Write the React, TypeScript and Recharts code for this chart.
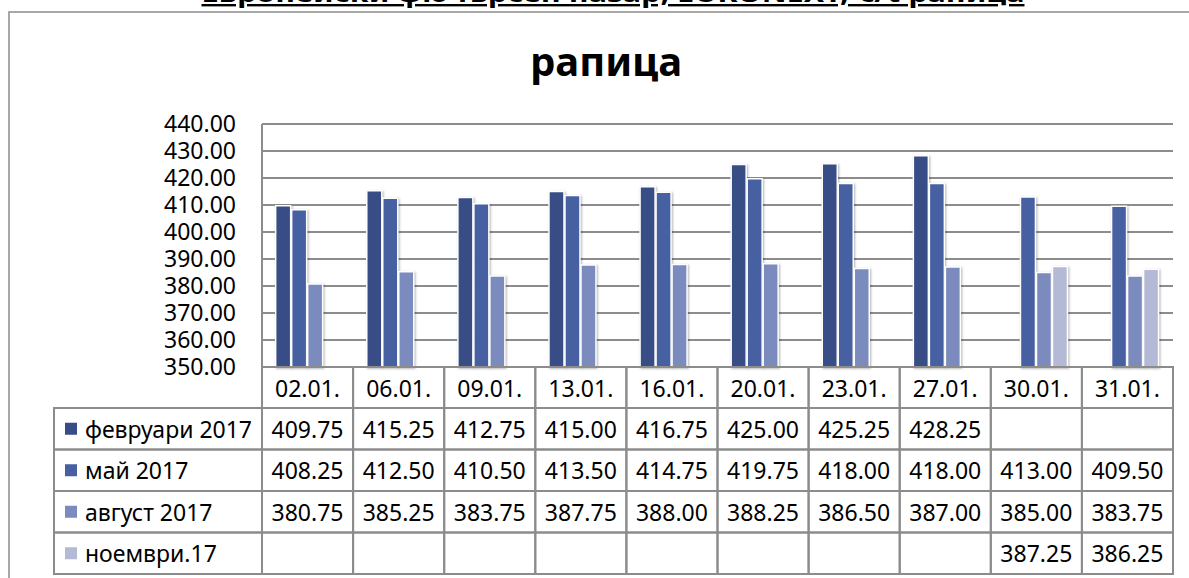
import React from "react"
import { BarChart, Bar, XAxis, YAxis, CartesianGrid } from "recharts"

const categories = ["02.01.", "06.01.", "09.01.", "13.01.", "16.01.", "20.01.", "23.01.", "27.01.", "30.01.", "31.01."]
const february = [409.75, 415.25, 412.75, 415.0, 416.75, 425.0, 425.25, 428.25, null, null]
const may = [408.25, 412.5, 410.5, 413.5, 414.75, 419.75, 418.0, 418.0, 413.0, 409.5]
const august = [380.75, 385.25, 383.75, 387.75, 388.0, 388.25, 386.5, 387.0, 385.0, 383.75]
const november = [null, null, null, null, null, null, null, null, 387.25, 386.25]
const yTicks = [350, 360, 370, 380, 390, 400, 410, 420, 430, 440]

const seriesList = [
  { key: "feb", name: "февруари 2017", values: february, color: "#384c86" },
  { key: "may", name: "май 2017", values: may, color: "#4660a2" },
  { key: "aug", name: "август 2017", values: august, color: "#7b8bbd" },
  { key: "nov", name: "ноември.17", values: november, color: "#b4bad6" },
]

const data = categories.map((c, i) => {
  const row: Record<string, string | number | null> = { name: c }
  seriesList.forEach((s) => (row[s.key] = s.values[i]))
  return row
})

const W = 1189
const H = 578
const margin = { top: 124, right: 16, bottom: 4, left: 152 }
const yAxisWidth = 110
const xAxisHeight = 207
const headerH = 41
const rowH = 41.5
const tableLeft = 54
const grey = "#8c8c8c"
const font = "'Noto Sans', sans-serif"
const bandW = (W - margin.left - yAxisWidth - margin.right) / categories.length

function TableColumn(props: any) {
  const { x, y, payload } = props
  const i = payload.index
  const left = x - bandW / 2
  const cells = []
  cells.push(
    <g key="h">
      <rect x={left} y={y} width={bandW} height={headerH} fill="none" stroke={grey} strokeWidth={2} />
      <text x={x} y={y + headerH / 2} textAnchor="middle" dominantBaseline="central" fontSize={23} fill="#000">
        {payload.value}
      </text>
    </g>
  )
  seriesList.forEach((s, r) => {
    const top = y + headerH + r * rowH
    const v = s.values[i]
    cells.push(
      <g key={s.key}>
        <rect x={left} y={top} width={bandW} height={rowH} fill="none" stroke={grey} strokeWidth={2} />
        {v != null && (
          <text x={x} y={top + rowH / 2} textAnchor="middle" dominantBaseline="central" fontSize={23} fill="#000">
            {v.toFixed(2)}
          </text>
        )}
      </g>
    )
  })
  if (i === 0) {
    seriesList.forEach((s, r) => {
      const top = y + headerH + r * rowH
      cells.push(
        <g key={"l" + s.key}>
          <rect x={tableLeft} y={top} width={left - tableLeft} height={rowH} fill="none" stroke={grey} strokeWidth={2} />
          <rect x={65} y={top + rowH / 2 - 6} width={12} height={12} fill={s.color} />
          <text x={85} y={top + rowH / 2} dominantBaseline="central" fontSize={23} fill="#000">
            {s.name}
          </text>
        </g>
      )
    })
  }
  return <g style={{ fontFamily: font }}>{cells}</g>
}

export default function App() {
  return (
    <div style={{ position: "absolute", left: 0, top: 0, width: W, height: H, overflow: "hidden", background: "#fff", fontFamily: font }}>
      <style>{`.recharts-bar-rectangle path { filter: drop-shadow(1.5px 1.5px 1px rgba(0,0,0,0.3)); }`}</style>
      <svg width={W} height={H} style={{ position: "absolute", left: 0, top: 0 }}>
        <rect x={9} y={12} width={1400} height={800} fill="#fff" stroke={grey} strokeWidth={1.5} />
        <text
          x={613}
          y={2}
          textAnchor="middle"
          fontSize={24}
          fontWeight="bold"
          textLength={823}
          lengthAdjust="spacingAndGlyphs"
          style={{ textDecoration: "underline", fontFamily: font }}
        >
          Европейски фючърсен пазар, EURONEXT, €/t рапица
        </text>
        <text x={606} y={76} textAnchor="middle" fontSize={40} fontWeight="bold" style={{ fontFamily: font }}>
          рапица
        </text>
      </svg>
      <div style={{ position: "absolute", left: 0, top: 0 }}>
        <BarChart width={W} height={H} data={data} margin={margin} barCategoryGap="15%" barGap={1}>
          <CartesianGrid vertical={false} stroke={grey} strokeWidth={2} />
          <YAxis
            domain={[350, 440]}
            ticks={yTicks}
            interval={0}
            width={yAxisWidth}
            tickLine={false}
            tickSize={0}
            tickMargin={26}
            axisLine={{ stroke: grey, strokeWidth: 2 }}
            tickFormatter={(v: number) => v.toFixed(2)}
            tick={{ fontSize: 23, fill: "#000", fontFamily: font }}
          />
          <XAxis
            dataKey="name"
            height={xAxisHeight}
            interval={0}
            tickLine={false}
            tickSize={0}
            tickMargin={0}
            axisLine={false}
            tick={<TableColumn />}
          />
          {seriesList.map((s) => (
            <Bar key={s.key} dataKey={s.key} name={s.name} fill={s.color} stroke="#fff" strokeWidth={1.5} isAnimationActive={false} />
          ))}
        </BarChart>
      </div>
    </div>
  )
}
